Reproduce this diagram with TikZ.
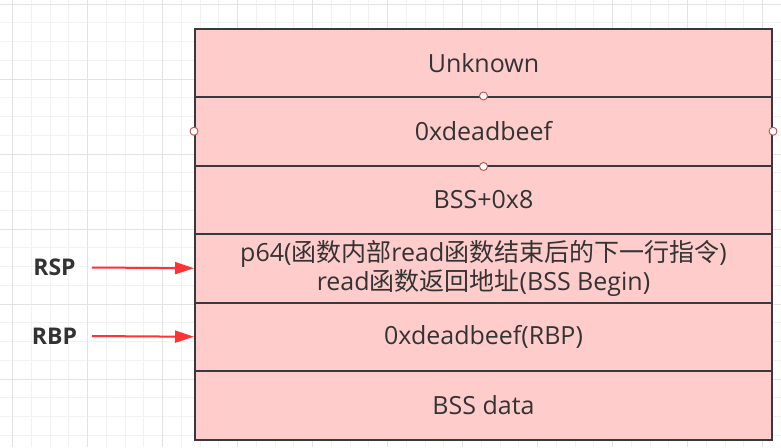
\documentclass[tikz,border=0pt]{standalone}
\usepackage{fontspec}
\setmainfont{Open Sans}
\newfontfamily\cjk{Noto Sans CJK SC}
\usetikzlibrary{arrows.meta}
\definecolor{cellfill}{HTML}{FFCCCC}
\definecolor{celldraw}{HTML}{36393D}
\definecolor{txt}{HTML}{333333}
\definecolor{arrowred}{HTML}{FF3333}
\definecolor{dotred}{HTML}{B85450}
\definecolor{gridminor}{HTML}{F1F1F1}
\definecolor{gridmajor}{HTML}{E2E2E2}
\begin{document}
\begin{tikzpicture}[x=1pt,y=-1pt,
  cell/.style={draw=celldraw, line width=2pt, fill=cellfill, minimum width=577pt,
    minimum height=68.5pt, inner sep=0pt, text=txt, font=\fontsize{25}{29}\selectfont,
    align=center, anchor=north west},
  dot/.style={circle, draw=dotred, fill=white, minimum size=8pt, inner sep=0pt, line width=0.9pt},
  reg/.style={font=\bfseries\fontsize{23}{27}\selectfont, text=txt, inner sep=0pt},
  redarrow/.style={draw=arrowred, line width=2pt, -{Triangle[length=19pt,width=12pt]}},
  minorline/.style={draw=gridminor, line width=1pt},
  majorline/.style={draw=gridmajor, line width=1pt}]
\useasboundingbox (0,0) rectangle (781,447);
\fill[white] (0,0) rectangle (781,447);
\begin{scope}
\clip (0,0) rectangle (781,447);
\foreach \i in {-1,...,42} \draw[minorline] ({12.5+18.75*\i},0) -- ({12.5+18.75*\i},447);
\foreach \j in {-1,...,24} \draw[minorline] (0,{4+18.75*\j}) -- (781,{4+18.75*\j});
\foreach \i in {0,...,10} \draw[majorline] ({12.5+75*\i},0) -- ({12.5+75*\i},447);
\foreach \j in {0,...,6} \draw[majorline] (0,{4+75*\j}) -- (781,{4+75*\j});
\end{scope}
\node[cell] (r1) at (194,27.5) {Unknown};
\node[cell] (r2) at (194,96) {0xdeadbeef};
\node[cell] (r3) at (194,164.5) {BSS+0x8};
\node[cell] (r4) at (194,233) {p64({\cjk 函数内部}read{\cjk 函数结束后的下一行指令})\\read{\cjk 函数返回地址}(BSS Begin)};
\node[cell] (r5) at (194,301.5) {0xdeadbeef(RBP)};
\node[cell] (r6) at (194,370) {BSS data};
\node[dot] (d1) at (r2.west) {};
\node[dot] (d2) at (r2.east) {};
\node[dot] (d3) at (r2.north) {};
\node[dot] (d4) at (r2.south) {};
\node[reg] (rsp) at (54.5,267.5) {RSP};
\node[reg] (rbp) at (54.5,336) {RBP};
\coordinate (rspstart) at (92,267.5);
\coordinate (rbpstart) at (92,336);
\draw[redarrow] (rspstart) -- (r4.west);
\draw[redarrow] (rbpstart) -- (r5.west);
\end{tikzpicture}
\end{document}
